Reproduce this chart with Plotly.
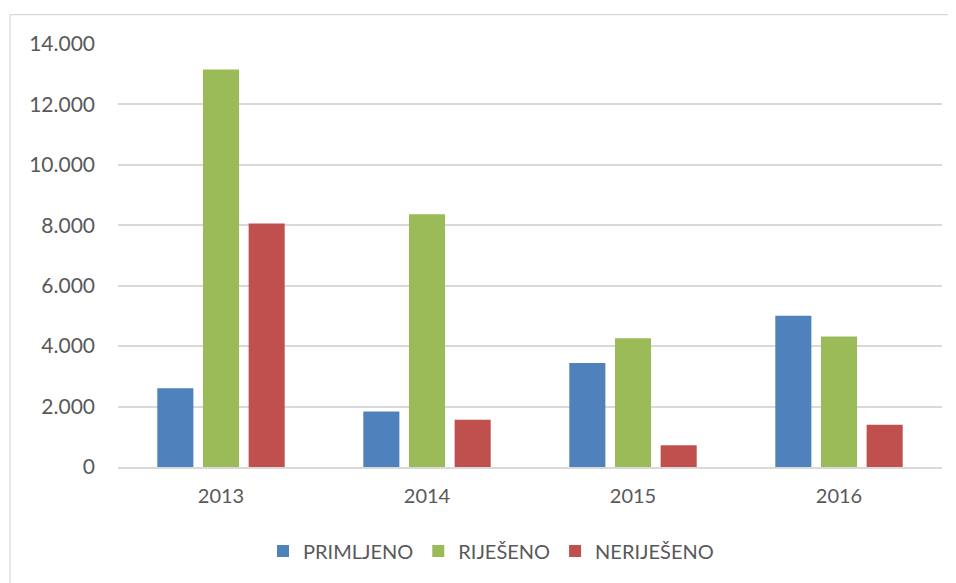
import plotly.graph_objects as go

years = ["2013", "2014", "2015", "2016"]
primljeno = [2610, 1840, 3440, 5010]
rijeseno = [13160, 8365, 4265, 4320]
nerijeseno = [8060, 1565, 720, 1400]
tick_vals = [0, 2000, 4000, 6000, 8000, 10000, 12000, 14000]
tick_text = ["0", "2.000", "4.000", "6.000", "8.000", "10.000", "12.000", "14.000"]

FONT = "Lato, Carlito, Calibri, sans-serif"
TXT = "#595959"

fig = go.Figure()
for name, vals, col in [("PRIMLJENO", primljeno, "#4f81bd"),
                        ("RIJEŠENO", rijeseno, "#9bbb59"),
                        ("NERIJEŠENO", nerijeseno, "#c0504d")]:
    fig.add_trace(go.Bar(x=years, y=vals, name=name, marker_color=col,
                         marker_line_width=0))

W, H = 956, 583
L, R, T, B = 110, 22, 35.5, 123.5
pw, ph = W - L - R, H - T - B

def px_x(x):
    return (x - L) / pw

def px_y(y):
    return (H - B - y) / ph

border = dict(color="#d9d9d9", width=1.2)
fig.update_layout(
    width=W, height=H,
    margin=dict(l=L, r=R, t=T, b=B),
    paper_bgcolor="white", plot_bgcolor="white",
    barmode="group", bargap=0.335, bargroupgap=0.21,
    font=dict(family=FONT, size=20, color=TXT),
    showlegend=True,
    legend=dict(orientation="h", x=px_x(483), xanchor="center", y=px_y(543.7), yanchor="middle",
                font=dict(size=20, color=TXT), itemwidth=30, traceorder="normal"),
    xaxis=dict(showgrid=False, showline=True, linecolor="#d9d9d9", linewidth=2,
               ticks="", ticklabelstandoff=10, tickfont=dict(size=20, color=TXT)),
    yaxis=dict(range=[0, 14000], tickvals=tick_vals, ticktext=tick_text,
               showgrid=True, gridcolor="#d9d9d9", gridwidth=1.5, zeroline=False,
               ticks="", ticklabelstandoff=22, tickfont=dict(size=21, color=TXT)),
    shapes=[
        dict(type="line", xref="paper", yref="paper",
             x0=px_x(2), x1=px_x(2), y0=px_y(600), y1=px_y(6), line=border, layer="below"),
        dict(type="line", xref="paper", yref="paper",
             x0=px_x(2), x1=px_x(960), y0=px_y(6), y1=px_y(6), line=border, layer="below"),
    ],
)

fig.write_html("out.html")
